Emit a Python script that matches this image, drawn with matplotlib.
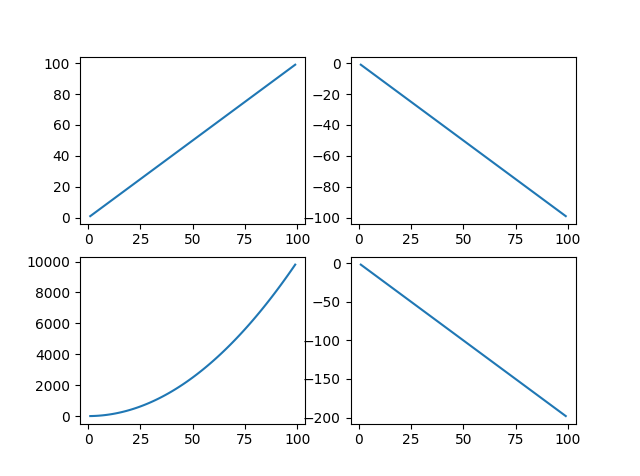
import matplotlib
matplotlib.use("Agg")
import matplotlib.pyplot as plt

# Top-left: rising line
x_up = [1, 25, 50, 75, 99]
y_up = [1, 25, 50, 75, 99]

# Top-right: falling line
x_down = [1, 25, 50, 75, 99]
y_down = [-1, -25, -50, -75, -99]

# Bottom-left: curve
x_curve = [1, 2, 3, 4, 5, 6, 7, 8, 9, 10, 11, 12, 13, 14, 15, 16, 17, 18, 19, 20,
           21, 22, 23, 24, 25, 26, 27, 28, 29, 30, 31, 32, 33, 34, 35, 36, 37, 38, 39, 40,
           41, 42, 43, 44, 45, 46, 47, 48, 49, 50, 51, 52, 53, 54, 55, 56, 57, 58, 59, 60,
           61, 62, 63, 64, 65, 66, 67, 68, 69, 70, 71, 72, 73, 74, 75, 76, 77, 78, 79, 80,
           81, 82, 83, 84, 85, 86, 87, 88, 89, 90, 91, 92, 93, 94, 95, 96, 97, 98, 99]
y_curve = [1, 4, 9, 16, 25, 36, 49, 64, 81, 100, 121, 144, 169, 196, 225, 256, 289, 324, 361, 400,
           441, 484, 529, 576, 625, 676, 729, 784, 841, 900, 961, 1024, 1089, 1156, 1225, 1296,
           1369, 1444, 1521, 1600, 1681, 1764, 1849, 1936, 2025, 2116, 2209, 2304, 2401, 2500,
           2601, 2704, 2809, 2916, 3025, 3136, 3249, 3364, 3481, 3600, 3721, 3844, 3969, 4096,
           4225, 4356, 4489, 4624, 4761, 4900, 5041, 5184, 5329, 5476, 5625, 5776, 5929, 6084,
           6241, 6400, 6561, 6724, 6889, 7056, 7225, 7396, 7569, 7744, 7921, 8100, 8281, 8464,
           8649, 8836, 9025, 9216, 9409, 9604, 9801]

# Bottom-right: steeper falling line
x_steep = [1, 25, 50, 75, 99]
y_steep = [-2, -50, -100, -150, -198]

# Tick labels
xticks = [0, 25, 50, 75, 100]
yticks_up = [0, 20, 40, 60, 80, 100]
yticks_down = [0, -20, -40, -60, -80, -100]
yticks_curve = [0, 2000, 4000, 6000, 8000, 10000]
yticks_steep = [0, -50, -100, -150, -200]

fig, axes = plt.subplots(2, 2, figsize=(6.4, 4.76), dpi=100)
axes[0, 0].plot(x_up, y_up)
axes[0, 1].plot(x_down, y_down)
axes[1, 0].plot(x_curve, y_curve)
axes[1, 1].plot(x_steep, y_steep)

axes[0, 0].set_yticks(yticks_up)
axes[0, 1].set_yticks(yticks_down)
axes[1, 0].set_yticks(yticks_curve)
axes[1, 1].set_yticks(yticks_steep)
for ax in axes.flat:
    ax.set_xticks(xticks)
    ax.margins(0.05)

fig.savefig("out.png", dpi=100)
